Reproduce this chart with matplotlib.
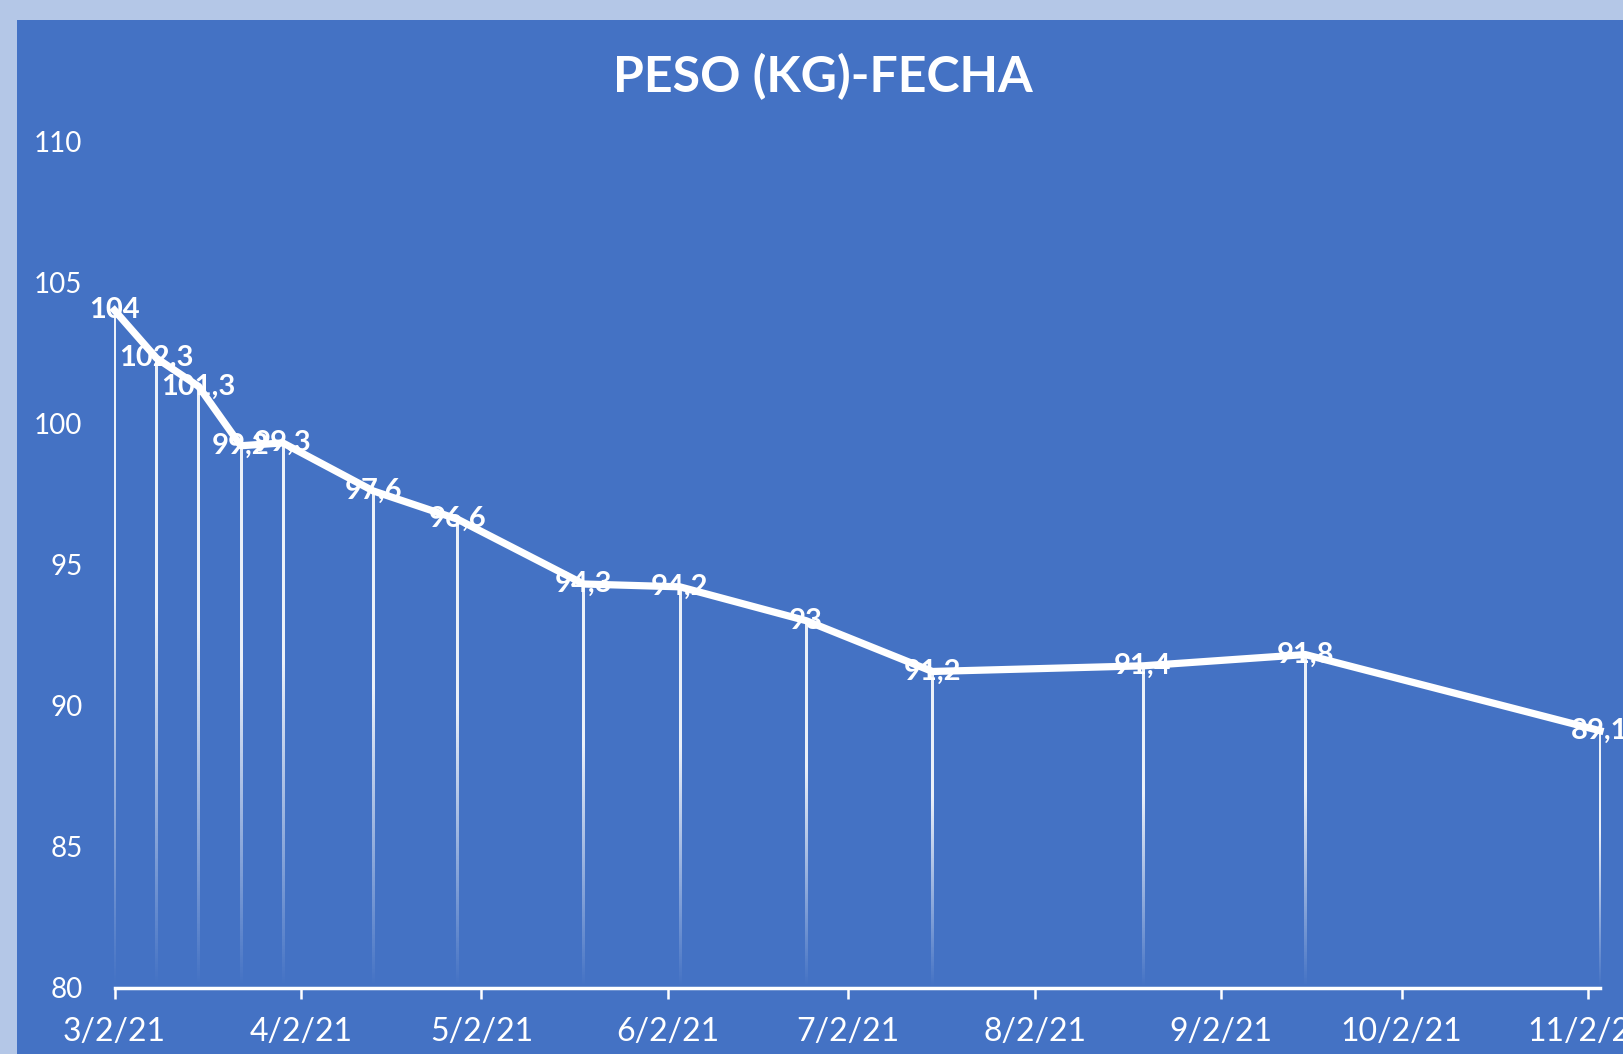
import matplotlib
matplotlib.use("Agg")
import matplotlib.pyplot as plt
import matplotlib.dates as mdates
import numpy as np
import pandas as pd

# ---- data ----
dates = ["2021-03-02", "2021-03-09", "2021-03-16", "2021-03-23", "2021-03-30",
         "2021-04-14", "2021-04-28", "2021-05-19", "2021-06-04", "2021-06-25",
         "2021-07-16", "2021-08-20", "2021-09-16", "2021-11-04"]
weights = [104, 102.3, 101.3, 99.2, 99.3, 97.6, 96.6, 94.3, 94.2, 93, 91.2, 91.4, 91.8, 89.1]
tick_dates = ["2021-03-02", "2021-04-02", "2021-05-02", "2021-06-02", "2021-07-02",
              "2021-08-02", "2021-09-02", "2021-10-02", "2021-11-02"]
tick_labels = ["3/2/21", "4/2/21", "5/2/21", "6/2/21", "7/2/21", "8/2/21",
               "9/2/21", "10/2/21", "11/2/21"]
title = "PESO (KG)-FECHA"

BLUE = "#4472C4"
LIGHT = "#B4C7E7"
FONT = ["Lato", "DejaVu Sans"]
plt.rcParams['font.family'] = FONT

x = mdates.date2num(pd.to_datetime(dates))
xt = mdates.date2num(pd.to_datetime(tick_dates))

W, H = 1623, 1054
fig = plt.figure(figsize=(W / 100, H / 100), dpi=100, facecolor=LIGHT)
# inner chart area panel
fig.patches.append(plt.Rectangle((17 / W, 0), 1, 1 - 20 / H,
                                 transform=fig.transFigure, facecolor=BLUE,
                                 edgecolor="none", zorder=-5))

ax_left, ax_right, ax_bottom, ax_top = 114.5, 1600, 987.5, 141
ax = fig.add_axes([ax_left / W, 1 - ax_bottom / H, (ax_right - ax_left) / W,
                   (ax_bottom - ax_top) / H])
ax.set_zorder(2)
ax.set_facecolor("none")
ax.set_xlim(x[0], x[-1])
ax.set_ylim(80, 110)

# drop lines with a gradient that fades towards the axis
days_per_px = (x[-1] - x[0]) / (ax_right - ax_left)
half_w = 1.25 * days_per_px
n = 200
t = np.linspace(0, 1, n)  # 0 = top (data point), 1 = bottom (axis)
alpha = np.clip(np.where(t < 0.4, 1.0, 1.0 - (t - 0.4) / 0.6), 0, 1) * 0.9
grad = np.ones((n, 1, 4))
grad[:, 0, 3] = alpha
for xi, yi in zip(x, weights):
    ax.imshow(grad, extent=(xi - half_w, xi + half_w, 80, yi), origin="upper",
              aspect="auto", interpolation="bilinear", zorder=2)
ax.set_xlim(x[0], x[-1])
ax.set_ylim(80, 110)

ax.plot(x, weights, color="white", lw=5.2, zorder=3, solid_joinstyle="round",
        clip_on=False)

for xi, yi in zip(x, weights):
    lab = f"{yi:g}".replace(".", ",")
    ax.text(xi, yi, lab, ha="center", va="center", color="white",
            fontsize=21, fontweight="bold", zorder=4, clip_on=False)

ax.set_yticks(np.arange(80, 111, 5))
ax.set_xticks(xt)
ax.set_xticklabels(tick_labels)
ax.tick_params(axis="y", length=0, pad=23, labelsize=20, labelcolor="white")
ax.tick_params(axis="x", length=8, width=1.8, color="white", pad=13,
               labelsize=23, labelcolor="white", direction="out")
for s in ["top", "right", "left"]:
    ax.spines[s].set_visible(False)
ax.spines["bottom"].set_color("white")
ax.spines["bottom"].set_linewidth(2.5)
ax.spines["bottom"].set_zorder(5)

fig.text(823 / W, 1 - 77 / H, title, ha="center", va="center",
         color="white", fontsize=36, fontweight="bold")

fig.savefig("out.png", dpi=100, facecolor=LIGHT)
